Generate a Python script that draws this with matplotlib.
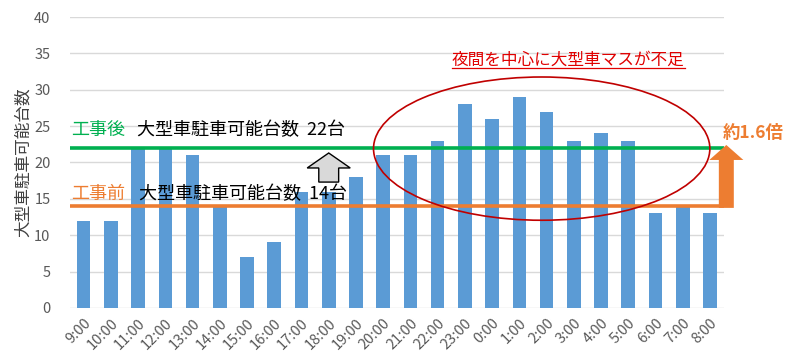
import matplotlib
matplotlib.use("Agg")
import matplotlib.pyplot as plt
from matplotlib.patches import Ellipse, FancyArrow
from matplotlib.lines import Line2D

plt.rcParams['font.family'] = ['Noto Sans CJK JP', 'DejaVu Sans']

hours = ["9:00", "10:00", "11:00", "12:00", "13:00", "14:00", "15:00", "16:00",
         "17:00", "18:00", "19:00", "20:00", "21:00", "22:00", "23:00", "0:00",
         "1:00", "2:00", "3:00", "4:00", "5:00", "6:00", "7:00", "8:00"]
parked = [12, 12, 22, 22, 21, 14, 7, 9, 16, 16, 18, 21, 21, 23, 28, 26,
          29, 27, 23, 24, 23, 13, 14, 13]
cap_before = 14
cap_after = 22

fig = plt.figure(figsize=(8, 3.58), dpi=100)
ax = fig.add_axes([0.0875, 0.14, 0.817, 0.8125])

x = list(range(len(hours)))
ax.bar(x, parked, width=0.5, color='#5b9bd5', zorder=2)
ax.set_xlim(-0.5, len(hours) - 0.5)
ax.set_ylim(0, 40)
ax.set_yticks(range(0, 41, 5))
ax.set_xticks(x)
ax.set_xticklabels(hours, rotation=45, ha='right', rotation_mode='anchor')
ax.grid(axis='y', color='#d9d9d9', lw=1, zorder=0)
for s in ax.spines.values():
    s.set_visible(False)
ax.tick_params(length=0, colors='#595959', labelsize=10.5)
ax.tick_params(axis='x', pad=6)
ax.tick_params(axis='y', pad=14, labelsize=10.5)
ax.set_ylabel('大型車駐車可能台数', color='#404040', fontsize=12, labelpad=2)

# capacity lines
ax.axhline(cap_after, color='#00b050', lw=2.6, zorder=3)
ax.axhline(cap_before, color='#ed7d31', lw=2.6, zorder=3)

ax.text(-0.45, 24.4, '工事後', color='#00b050', fontsize=13, va='center', zorder=5)
ax.text(1.95, 24.4, '大型車駐車可能台数  %d台' % cap_after, color='black',
        fontsize=13, va='center', zorder=5)
ax.text(-0.45, 15.6, '工事前', color='#ed7d31', fontsize=13, va='center', zorder=5)
ax.text(2.05, 15.6, '大型車駐車可能台数  %d台' % cap_before, color='black',
        fontsize=13, va='center', zorder=5)

# gray arrow
ax.add_patch(FancyArrow(9, 17.3, 0, 4.0, width=0.73, head_width=1.58,
                        head_length=2.06, length_includes_head=True,
                        fc='#d9d9d9', ec='black', lw=1, zorder=4))

# orange arrow
ax.add_patch(FancyArrow(23.6, 13.75, 0, 8.65, width=0.55, head_width=1.25,
                        head_length=2.06, length_includes_head=True,
                        fc='#ed7d31', ec='none', zorder=4, clip_on=False))
ax.text(23.45, 24.0, '約1.6倍', color='#ed7d31', fontsize=12.5,
        fontweight='bold', va='center', ha='left', clip_on=False)

# red ellipse
ax.add_patch(Ellipse((16.82, 21.9), 12.35, 19.7, fill=False, ec='#c00000',
                     lw=1.2, zorder=4))
t = ax.text(17.8, 34.0, '夜間を中心に大型車マスが不足', color='#e00000',
            fontsize=12, ha='center', va='center', zorder=5)

fig.canvas.draw()
bb = t.get_window_extent().transformed(fig.transFigure.inverted())
fig.add_artist(Line2D([bb.x0, bb.x1], [bb.y0 + 0.004, bb.y0 + 0.004],
                      color='#e00000', lw=0.9))

fig.savefig('out.png', dpi=100)
